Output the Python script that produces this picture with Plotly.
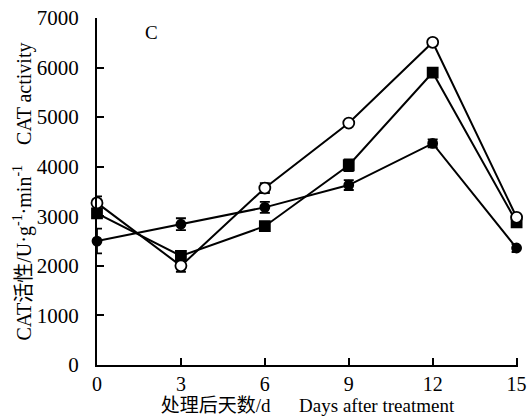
import plotly.graph_objects as go

days = [0, 3, 6, 9, 12, 15]
open_circle = [3270, 2000, 3570, 4880, 6510, 2980]
open_err = [130, 120, 100, 40, 60, 50]
filled_square = [3060, 2200, 2800, 4030, 5900, 2880]
square_err = [80, 90, 50, 120, 50, 80]
filled_circle = [2500, 2840, 3180, 3630, 4470, 2360]
circle_err = [250, 120, 110, 100, 80, 80]

x_ticks = [0, 3, 6, 9, 12, 15]
y_ticks = [0, 1000, 2000, 3000, 4000, 5000, 6000, 7000]

font_serif = "Liberation Serif, Times New Roman, Noto Sans CJK SC, serif"

fig = go.Figure()

def add(y, err, symbol, fill, size):
    fig.add_trace(go.Scatter(
        x=days, y=y, mode="lines+markers",
        line=dict(color="black", width=2),
        marker=dict(symbol=symbol, size=size,
                    color=fill, line=dict(color="black", width=1.8)),
        error_y=dict(type="data", array=err, visible=True, color="black",
                     thickness=1.8, width=5),
        showlegend=False,
        cliponaxis=False,
    ))

add(filled_circle, circle_err, "circle", "black", 9)
add(filled_square, square_err, "square", "black", 10)
add(open_circle, open_err, "circle", "white", 11)

fig.add_annotation(text="C", x=0.11, y=0.995, xref="paper", yref="paper",
                   showarrow=False, font=dict(family=font_serif, size=19, color="black"))

fig.update_layout(
    width=531, height=417,
    margin=dict(l=97, r=13, t=18, b=52),
    paper_bgcolor="white", plot_bgcolor="white",
    font=dict(family=font_serif, size=21, color="black"),
    xaxis=dict(range=[0, 15.05], tickvals=x_ticks, ticks="inside", ticklen=7,
               tickwidth=1.5, tickcolor="black", showline=True, linecolor="black",
               linewidth=2, showgrid=False, zeroline=False, automargin=False,
               title=dict(text="处理后天数/d      Days after treatment", standoff=5,
                          font=dict(size=19)),
               tickfont=dict(size=20)),
    yaxis=dict(range=[0, 7000], tickvals=y_ticks, ticks="inside", ticklen=7,
               tickwidth=1.5, tickcolor="black", showline=True, linecolor="black",
               linewidth=2, showgrid=False, zeroline=False, ticklabelstandoff=12,
               automargin=False,
               title=dict(text="CAT活性/U·g<sup>-1</sup>·min<sup>-1</sup>    CAT activity",
                          standoff=0, font=dict(size=20)),
               tickfont=dict(size=21)),
)

fig.write_html("out.html", config={"displayModeBar": False},
               post_script="document.body.style.margin='0';document.body.style.overflow='hidden';")
